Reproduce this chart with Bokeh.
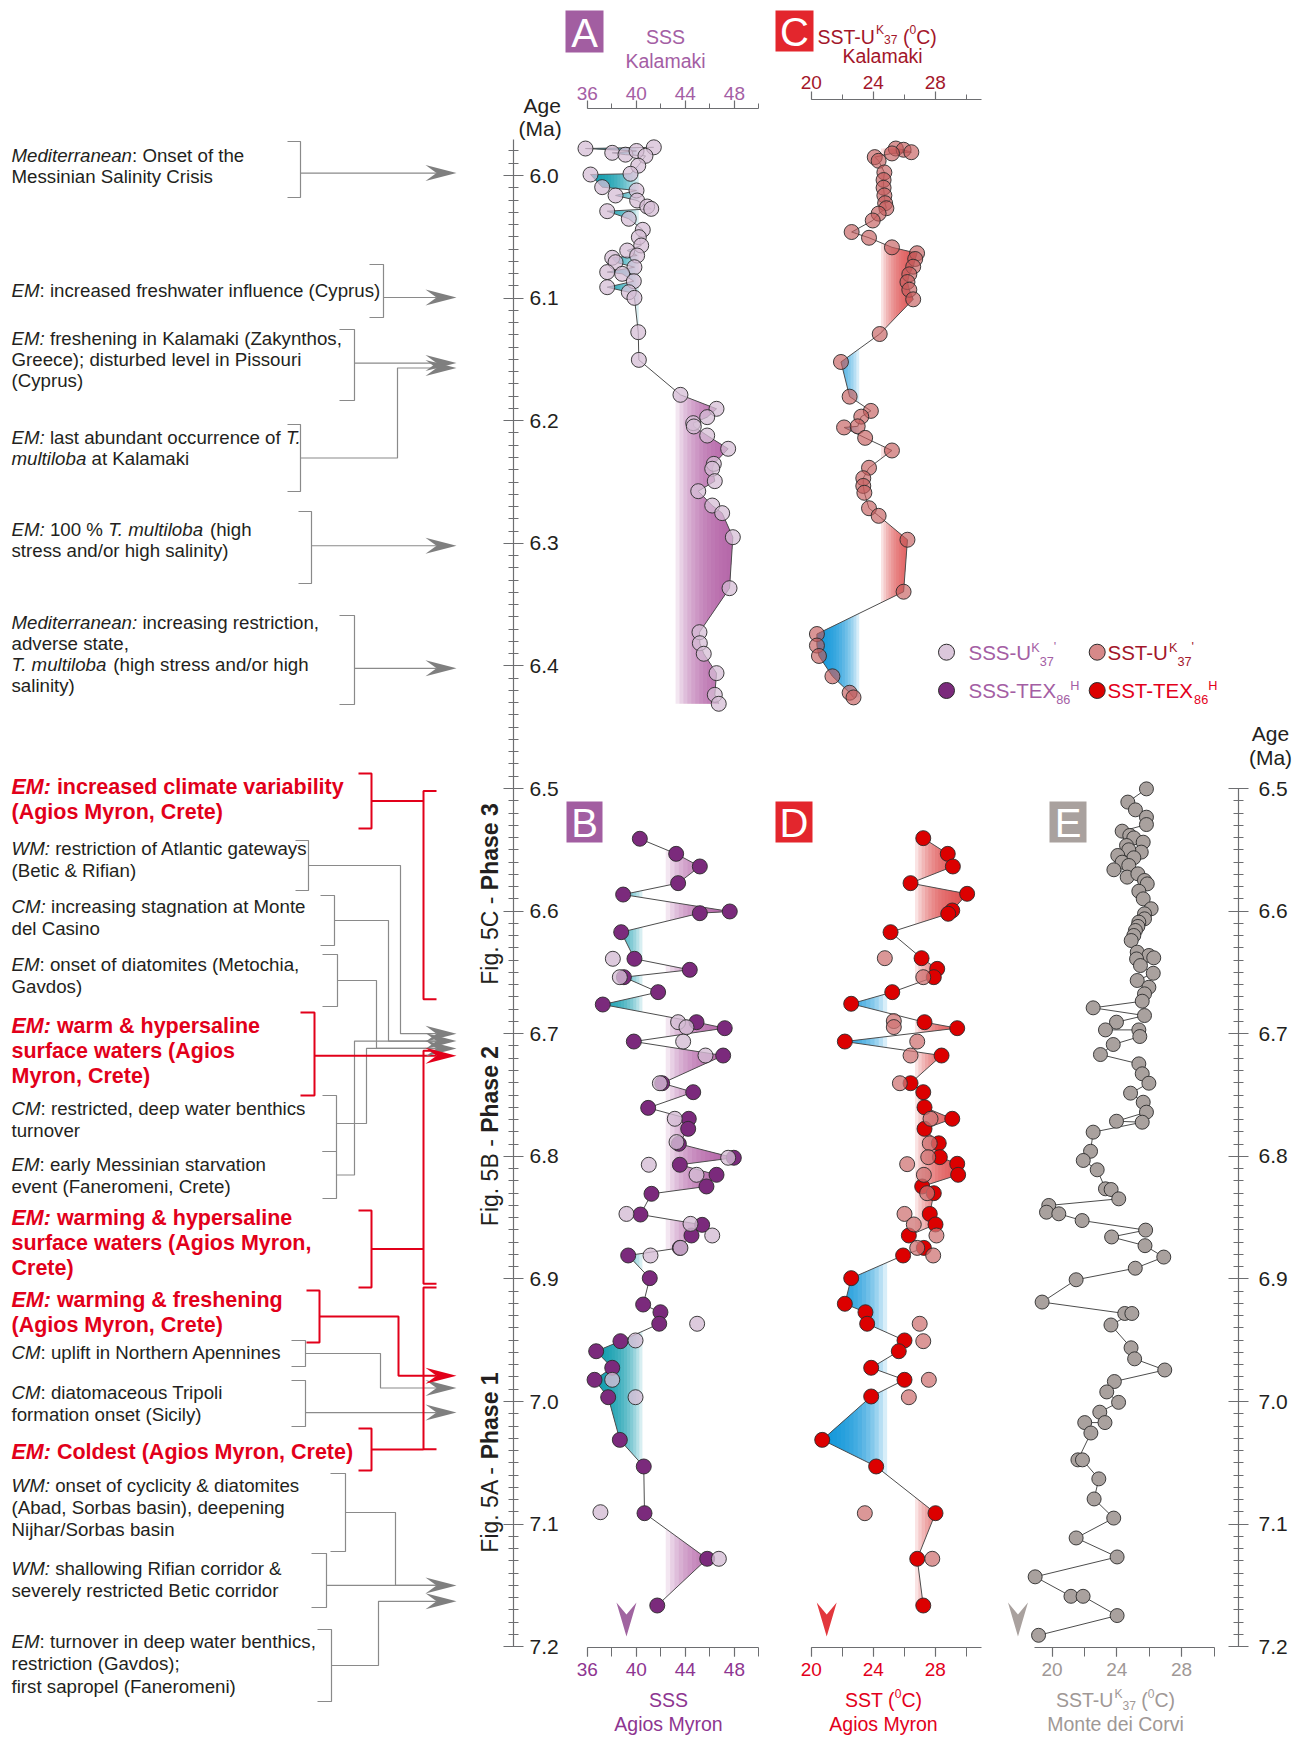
import math
import numpy as np
from bokeh.plotting import figure
from bokeh.layouts import row, column
from bokeh.models import Range1d, SingleIntervalTicker, PrintfTickFormatter, Title
from bokeh.core.properties import value
from bokeh.embed import file_html
from bokeh.resources import INLINE

FONT = "Liberation Sans"

# ====================================================================== DATA
# (A) SSS Kalamaki (U37K')
KAL_SSS_AGE = [5.978, 5.9815, 5.983, 5.980, 5.977, 5.984, 5.992, 5.9986, 5.9992, 6.0095,
               6.0163, 6.0122, 6.0204, 6.0253, 6.0272, 6.0291, 6.0353, 6.0443, 6.0503, 6.0571,
               6.0612, 6.0653, 6.0671, 6.0707, 6.0748, 6.0788, 6.0802, 6.0862, 6.0911, 6.0952,
               6.0998, 6.1278, 6.1504, 6.1789, 6.1903, 6.1971, 6.2020, 6.2047, 6.2121, 6.2229,
               6.2352, 6.2392, 6.2493, 6.2575, 6.2692, 6.2754, 6.2950, 6.3366, 6.3725, 6.3815,
               6.3901, 6.4059, 6.4236, 6.4309]
KAL_SSS = [35.86, 38.04, 39.12, 40.02, 41.43, 40.75, 40.16, 39.53, 36.27, 37.22,
           38.31, 40.02, 40.07, 40.89, 41.22, 37.63, 39.39, 40.53, 40.21, 40.40,
           39.26, 40.07, 38.04, 38.31, 39.85, 37.63, 38.85, 39.80, 37.63, 39.39,
           39.85, 40.16, 40.21, 43.60, 46.54, 45.78, 44.64, 44.69, 45.78, 47.49,
           46.32, 46.19, 46.40, 45.05, 46.19, 47.00, 47.87, 47.60, 45.15, 45.18,
           45.50, 46.54, 46.40, 46.72]

# (C) SST Kalamaki (U37K')
KAL_SST_AGE = [5.985, 5.978, 5.979, 5.981, 5.982, 5.988, 5.9975, 6.0037, 6.010, 6.0163,
               6.0226, 6.0267, 6.0311, 6.0367, 6.0461, 6.0508, 6.0586, 6.0634, 6.0681, 6.0744,
               6.0806, 6.0869, 6.0932, 6.101, 6.1293, 6.1521, 6.1804, 6.192, 6.1967, 6.2055,
               6.2046, 6.214, 6.2243, 6.2384, 6.2469, 6.2532, 6.2588, 6.2714, 6.2776, 6.2971,
               6.3395, 6.374, 6.3834, 6.3919, 6.4085, 6.4219, 6.4257]
KAL_SST = [24.10, 25.46, 25.96, 26.46, 25.21, 24.35, 24.72, 24.67, 24.67, 24.72,
           24.77, 24.85, 24.35, 23.97, 22.61, 23.73, 25.21, 26.83, 26.71, 26.58,
           26.33, 26.21, 26.33, 26.58, 24.42, 21.92, 22.48, 23.85, 23.23, 22.12,
           23.00, 23.48, 25.21, 23.73, 23.36, 23.36, 23.43, 23.73, 24.35, 26.21,
           25.96, 20.37, 20.37, 20.50, 21.37, 22.48, 22.73]

# (B) SSS Agios Myron: TEX86H and U37K'
AM_SSS_TEX_AGE = [6.541, 6.5533, 6.5636, 6.5772, 6.5865, 6.6017, 6.6003, 6.6172, 6.6389, 6.6479,
                  6.6539, 6.6661, 6.6762, 6.6906, 6.6955, 6.7064, 6.7178, 6.7404, 6.7477, 6.7605,
                  6.7694, 6.7776, 6.7898, 6.8012, 6.8069, 6.8151, 6.8246, 6.8306, 6.8475, 6.8559,
                  6.8646, 6.8747, 6.8809, 6.8994, 6.9209, 6.9272, 6.9366, 6.9508, 6.9590, 6.9725,
                  6.9823, 6.9965, 7.0313, 7.0530, 7.0911, 7.1283, 7.1664]
AM_SSS_TEX = [40.29, 43.25, 45.18, 43.41, 38.93, 45.18, 47.62, 38.77, 39.85, 44.36,
              38.99, 41.78, 37.27, 44.91, 47.21, 39.80, 47.08, 42.11, 44.64, 40.97,
              44.28, 44.23, 43.47, 47.95, 43.55, 46.54, 45.72, 41.24, 40.34, 45.37,
              44.50, 43.55, 39.34, 41.10, 40.56, 41.97, 41.87, 38.71, 36.73, 38.04,
              36.60, 37.71, 38.66, 40.61, 40.67, 45.78, 41.71]
AM_SSS_UK_AGE = [6.6389, 6.6539, 6.6906, 6.6947, 6.7064, 6.7178, 6.7404, 6.7694, 6.7884, 6.8012,
                 6.8069, 6.8151, 6.8470, 6.8551, 6.8646, 6.8747, 6.8809, 6.9366, 6.9502, 6.9823,
                 6.9965, 7.0903, 7.1283]
AM_SSS_UK = [38.09, 38.66, 43.41, 44.09, 43.82, 45.64, 41.92, 43.14, 43.28, 47.49,
             41.02, 44.91, 39.20, 44.42, 46.19, 43.60, 41.16, 44.96, 39.94, 38.04,
             39.94, 37.08, 46.73]

# (D) SST Agios Myron: TEX86H and U37K'
AM_SST_TEX_AGE = [6.5405, 6.5533, 6.5636, 6.5772, 6.5859, 6.5995, 6.6022, 6.6172, 6.6384, 6.6471,
                  6.6539, 6.6661, 6.6756, 6.6906, 6.6955, 6.7064, 6.7178, 6.7404, 6.7477, 6.7600,
                  6.7694, 6.7776, 6.7894, 6.8007, 6.8061, 6.8151, 6.8246, 6.8301, 6.8470, 6.8556,
                  6.8646, 6.8747, 6.8809, 6.8994, 6.9203, 6.9272, 6.9366, 6.9502, 6.9590, 6.9725,
                  6.9823, 6.9959, 7.0313, 7.0530, 7.0911, 7.1283, 7.1664]
AM_SST_TEX = [27.23, 28.81, 29.14, 26.41, 30.06, 29.10, 28.84, 25.12, 27.12, 28.13,
              27.91, 25.23, 22.58, 27.31, 29.42, 22.17, 28.41, 26.41, 27.23, 27.31,
              29.10, 27.31, 28.23, 28.30, 29.42, 29.48, 27.16, 27.91, 27.65, 28.02,
              26.30, 27.27, 25.93, 22.58, 22.17, 23.50, 23.61, 26.02, 25.65, 23.87,
              26.02, 23.87, 20.71, 24.19, 28.02, 26.84, 27.23]
AM_SST_UK_AGE = [6.6384, 6.6539, 6.6897, 6.6946, 6.7064, 6.7178, 6.7404, 6.7694, 6.7894, 6.8007,
                 6.8064, 6.8151, 6.8301, 6.8470, 6.8556, 6.8646, 6.8747, 6.8809, 6.9366, 6.9508,
                 6.9823, 6.9965, 7.0911, 7.1283]
AM_SST_UK = [24.75, 27.23, 25.33, 25.33, 26.84, 26.41, 25.72, 27.70, 27.65, 27.55,
             26.19, 27.27, 27.48, 26.02, 26.62, 28.08, 26.84, 27.87, 27.00, 27.23,
             27.59, 26.30, 23.46, 27.81]

# (E) SST Monte dei Corvi (U37K')
MDC_AGE = [6.5003, 6.5111, 6.5174, 6.5234, 6.5294, 6.5348, 6.5383, 6.5403, 6.5438, 6.5465,
           6.5519, 6.5500, 6.5546, 6.5565, 6.5601, 6.5628, 6.5663, 6.5723, 6.5696, 6.5750,
           6.5778, 6.5838, 6.5900, 6.5981, 6.6022, 6.6063, 6.6090, 6.6125, 6.6158, 6.6199,
           6.6240, 6.6335, 6.6362, 6.6381, 6.6390, 6.6444, 6.6507, 6.6566, 6.6621, 6.6675,
           6.6735, 6.6789, 6.6852, 6.6906, 6.6969, 6.6969, 6.7023, 6.7088, 6.7170, 6.7246,
           6.7327, 6.7404, 6.7485, 6.7559, 6.7640, 6.7722, 6.7714, 6.7803, 6.7959, 6.8034,
           6.8110, 6.8265, 6.8271, 6.8347, 6.8401, 6.8456, 6.8469, 6.8524, 6.8602, 6.8658,
           6.8729, 6.8822, 6.8913, 6.9007, 6.9189, 6.9282, 6.9282, 6.9376, 6.9562, 6.9652,
           6.9743, 6.9837, 6.9922, 7.0007, 7.0087, 7.0172, 7.0172, 7.0257, 7.0476, 7.0476,
           7.0631, 7.0795, 7.0951, 7.1113, 7.1268, 7.1430, 7.1589, 7.1589, 7.1746, 7.1907]
MDC_SST = [25.83, 24.68, 25.15, 25.83, 25.83, 24.33, 24.80, 25.05, 25.63, 24.60,
           25.51, 24.74, 24.06, 25.05, 24.33, 24.74, 23.82, 24.64, 25.30, 25.71,
           25.88, 25.36, 25.63, 26.12, 25.71, 25.71, 25.36, 25.30, 25.15, 25.05,
           24.89, 25.26, 25.98, 26.28, 25.22, 25.46, 26.25, 25.26, 25.98, 25.71,
           25.57, 22.54, 25.71, 23.98, 23.30, 25.36, 25.42, 23.78, 22.99, 25.36,
           25.57, 25.98, 24.85, 25.63, 25.83, 25.57, 23.98, 22.54, 22.38, 21.93,
           22.79, 23.30, 23.65, 24.12, 19.80, 19.66, 20.42, 21.86, 25.78, 23.68,
           25.74, 26.90, 25.14, 21.49, 19.39, 24.49, 24.93, 23.64, 24.88, 25.10,
           26.96, 23.85, 23.38, 24.11, 22.95, 23.27, 22.02, 22.40, 21.60, 21.88,
           22.89, 22.60, 23.81, 21.49, 24.02, 18.96, 21.17, 21.92, 24.02, 19.17]

# present-day reference values (arrowheads under panels B, D, E)
MODERN_SSS = 39.2
MODERN_SST = 21.0
MODERN_MDC = 17.9

# shading: (start value, extent of colour gradient)
SHADE_A = {"high": (43.2, 4.5), "low": (40.2, 3.5)}
SHADE_B = {"high": (42.4, 5.0), "low": (40.5, 3.5)}
SHADE_C = {"high": (24.5, 2.3), "low": (23.1, 2.6)}
SHADE_D = {"high": (26.7, 3.0), "low": (24.9, 3.8)}

# event ages targeted by arrows on the central age axis (Ma)
GREY_EVENT_AGES = [5.998, 6.0995, 6.153, 6.157, 6.302, 6.402, 6.700, 6.706, 6.712,
                   6.989, 7.009, 7.150, 7.163]
RED_EVENT_AGES = [6.718, 6.979]
PHASE_SPANS = [(6.502, 6.672), (6.714, 6.904), (6.907, 7.039)]
PHASE_LABELS = [("Fig. 5C - ", "Phase 3"), ("Fig. 5B - ", "Phase 2"), ("Fig. 5A - ", "Phase 1")]

# ====================================================================== LAYOUT CONSTANTS
AGE_REF, Y_REF, PX_PER_MA = 6.0, 175.0, 1226.0
SSS_SCALE = (36.0, 586.7, 12.27)
SST_SCALE = (20.0, 810.7, 15.5)
MDC_SCALE = (20.0, 1051.5, 16.2)
PX_SCALE = (0.0, 0.0, 1.0)

INK = "#231f20"
AXIS_GREY = "#6d6e71"
LINE_GREY = "#8a8a8a"
ARROW_GREY = "#7f7f7f"
RED = "#e2001a"
SSS_TOP = "#a45ea4"
SSS_BOT = "#8e3591"
SST_TOP = "#a3162a"
SST_BOT = "#e3001b"
MDC_TXT = "#9f9896"
PURPLE_LIGHT = "#d5bdd5"
PURPLE_DARK = "#7b2a7c"
RED_LIGHT = "#cf7474"
RED_DARK = "#dc0000"
GREY_PT = "#a9a19e"
SHADE_PURPLE = "#b25aa4"
SHADE_TEAL = "#0097aa"
SHADE_RED = "#e04545"
SHADE_BLUE = "#0092da"


def age_at(py):
    return AGE_REF + (py - Y_REF) / PX_PER_MA


def py_of(age):
    return Y_REF + (age - AGE_REF) * PX_PER_MA


def val_at(px, sc):
    return sc[0] + (px - sc[1]) / sc[2]


# Arial / Liberation Sans advance widths (1/1000 em)
_P = " !\"#$%&'()*+,-./0123456789:;<=>?@"
_U = "ABCDEFGHIJKLMNOPQRSTUVWXYZ"
_L = "abcdefghijklmnopqrstuvwxyz"
REG = dict(zip(_P, [278, 278, 355, 556, 556, 889, 667, 191, 333, 333, 389, 584, 278, 333, 278, 278]
               + [556] * 10 + [278, 278, 584, 584, 584, 556, 1015]))
REG.update(zip(_U, [667, 667, 722, 722, 667, 611, 778, 722, 278, 500, 667, 556, 833, 722, 778, 667,
                    778, 722, 667, 611, 722, 667, 944, 667, 667, 611]))
REG.update(zip(_L, [556, 556, 500, 556, 556, 278, 556, 556, 222, 222, 500, 222, 833, 556, 556, 556,
                    556, 333, 500, 278, 556, 500, 722, 500, 500, 500]))
BLD = dict(zip(_P, [278, 333, 474, 556, 556, 889, 722, 238, 333, 333, 389, 584, 278, 333, 278, 278]
               + [556] * 10 + [333, 333, 584, 584, 584, 611, 975]))
BLD.update(zip(_U, [722, 722, 722, 722, 667, 611, 778, 722, 278, 556, 722, 611, 833, 722, 778, 667,
                    778, 722, 667, 611, 722, 667, 944, 667, 667, 611]))
BLD.update(zip(_L, [556, 611, 556, 611, 556, 333, 611, 611, 278, 278, 556, 278, 889, 611, 611, 611,
                    611, 389, 556, 333, 611, 556, 778, 556, 556, 500]))


def text_w(s, size, bold=False):
    tbl = BLD if bold else REG
    return sum(tbl.get(ch, 556) for ch in s) * size / 1000.0


# ====================================================================== FIGURES
def make_fig(w, h, frame, xscale=None, xloc=None, yloc=None, borders=(0, 0, 0, 0)):
    l, r, t, b = frame
    if xscale is None:
        xr, yr = Range1d(l, r), Range1d(b, t)
    else:
        xr = Range1d(val_at(l, xscale), val_at(r, xscale))
        yr = Range1d(age_at(b), age_at(t))
    p = figure(width=w, height=h, x_range=xr, y_range=yr, output_backend="svg",
               toolbar_location=None, x_axis_location=xloc, y_axis_location=yloc, min_border=0)
    p.min_border_left, p.min_border_right, p.min_border_top, p.min_border_bottom = borders
    p.extra_x_ranges = {"px": Range1d(l, r)}
    p.extra_y_ranges = {"py": Range1d(b, t)}
    p.outline_line_color = None
    p.background_fill_color = "white"
    p.border_fill_color = "white"
    p.grid.visible = False
    return p


def style_axis(ax, bounds, interval, nminor, color, size, standoff, tin, tout, mtin, mtout, fmt=None):
    ax.bounds = bounds
    ax.ticker = SingleIntervalTicker(interval=interval, num_minor_ticks=nminor)
    if fmt:
        ax.formatter = PrintfTickFormatter(format=fmt)
    ax.axis_line_color = AXIS_GREY
    ax.major_tick_line_color = AXIS_GREY
    ax.minor_tick_line_color = AXIS_GREY
    ax.axis_line_width = 1.2
    ax.major_tick_line_width = 1.2
    ax.minor_tick_line_width = 1
    ax.major_tick_in, ax.major_tick_out = tin, tout
    ax.minor_tick_in, ax.minor_tick_out = mtin, mtout
    ax.major_label_text_font = FONT
    ax.major_label_text_font_size = f"{size}px"
    ax.major_label_text_color = color
    ax.major_label_standoff = standoff


TEXTS = {}


def put(p, x, y, s, size, color=INK, style="normal", align="left", baseline="middle", angle=0.0):
    key = (id(p), round(size, 2), style, align, baseline, angle)
    d = TEXTS.setdefault(key, {"p": p, "x": [], "y": [], "t": [], "c": []})
    d["x"].append(x)
    d["y"].append(y)
    d["t"].append(s)
    d["c"].append(color)


def flush_texts():
    for (pid, size, style, align, baseline, angle), d in TEXTS.items():
        d["p"].text(x=d["x"], y=d["y"], text=d["t"], text_color=d["c"],
                    x_range_name="px", y_range_name="py",
                    text_font=value(FONT), text_font_size=value(f"{size}px"),
                    text_font_style=value(style), text_align=value(align),
                    text_baseline=value(baseline), angle=angle)


def rich(p, x, y, segs, size, color, align="left"):
    """segs: (text, style, size factor, rise in em of the base size); y = visual centre line"""
    widths = [text_w(t, size * f, "bold" in st) for (t, st, f, rise) in segs]
    total = sum(widths)
    x0 = x - total / 2 if align == "center" else (x - total if align == "right" else x)
    for (t, st, f, rise), w in zip(segs, widths):
        body = t.lstrip(" ")
        lead = text_w(t[:len(t) - len(body)], size * f, "bold" in st)
        if body.strip():
            put(p, x0 + lead, y - rise * size, body.rstrip(" "), round(size * f, 2), color, st, "left", "middle")
        x0 += w


def markup(line, bold):
    segs = []
    for i, part in enumerate(line.split("*")):
        if not part:
            continue
        st = " ".join(s for s in (("bold" if bold else ""), ("italic" if i % 2 else "")) if s) or "normal"
        segs.append((part, st, 1.0, 0.0))
    return segs


def uk37(prefix, sup, sub):
    return [(prefix, "normal", 1, 0), ("K", "normal", 0.62, sup), ("37", "normal", 0.62, sub),
            (" (", "normal", 1, 0), ("0", "normal", 0.62, sup), ("C)", "normal", 1, 0)]


# central age axis column (frame ends at the axis, labels in the right border)
L_main = make_fig(562, 1743, (0, 513, 139, 1743), xscale=PX_SCALE, yloc="right", borders=(0, 49, 139, 0))
for txt, off, so in (("(Ma)", 518, -4), ("Age", 523, -1)):
    L_main.add_layout(Title(text=txt, align="left", offset=off, standoff=so, vertical_align="top",
                            text_font=FONT, text_font_size="21px", text_font_style="normal",
                            text_color=INK), "above")
# top panels
hA = make_fig(208, 72, (562, 770, 0, 72))
pA = make_fig(208, 703, (562, 770, 108, 775), xscale=SSS_SCALE, xloc="above", borders=(0, 0, 36, 0))
hC = make_fig(541, 66, (770, 1311, 0, 66))
pC = make_fig(541, 709, (770, 1311, 99, 775), xscale=SST_SCALE, xloc="above", borders=(0, 0, 33, 0))
# bottom panels
pB = make_fig(208, 909, (562, 770, 775, 1647), xscale=SSS_SCALE, xloc="below", borders=(0, 0, 0, 37))
pD = make_fig(225, 909, (770, 995, 775, 1647), xscale=SST_SCALE, xloc="below", borders=(0, 0, 0, 37))
pE = make_fig(316, 909, (995, 1238, 775, 1647), xscale=MDC_SCALE, xloc="below", yloc="right",
              borders=(0, 73, 0, 37))
foot = make_fig(749, 59, (562, 1311, 1684, 1743))

style_axis(L_main.yaxis[0], (5.9695, 7.2001), 0.1, 10, INK, 21, 6, 10, 10, 5, 5, "%.1f")
style_axis(pE.yaxis[0], (6.4999, 7.2001), 0.1, 10, INK, 21, 10, 10, 10, 5, 5, "%.1f")
style_axis(pA.xaxis[0], (36, 50), 4, 2, SSS_TOP, 19, 1, 0, 8, 0, 5)
style_axis(pC.xaxis[0], (20, 31), 4, 2, SST_TOP, 19, 3, 0, 8, 0, 5)
style_axis(pB.xaxis[0], (36, 50), 4, 2, SSS_BOT, 19, 6, 0, 9, 0, 9)
style_axis(pD.xaxis[0], (20, 31), 4, 2, SST_BOT, 19, 6, 0, 9, 0, 9)
style_axis(pE.xaxis[0], (18.9, 30), 4, 2, MDC_TXT, 19, 6, 0, 9, 0, 9)


# ====================================================================== DATA GLYPHS
def densify(a, v, lev):
    ys, xs = [a[0]], [v[0]]
    for i in range(1, len(a)):
        a0, v0, a1, v1 = a[i - 1], v[i - 1], a[i], v[i]
        if (v0 - lev) * (v1 - lev) < 0:
            t = (lev - v0) / (v1 - v0)
            ys.append(a0 + t * (a1 - a0))
            xs.append(lev)
        ys.append(a1)
        xs.append(v1)
    return np.array(ys), np.array(xs)


def sorted_xy(ages, vals):
    o = np.argsort(np.asarray(ages, float), kind="stable")
    return np.asarray(ages, float)[o], np.asarray(vals, float)[o]


def shade(p, ages, vals, level, width, color, side, n=14, amax=0.9):
    a, v = sorted_xy(ages, vals)
    alpha = 1 - (1 - amax) ** (1.0 / n)
    sgn = 1 if side == "high" else -1
    for k in range(n):
        lev = level + sgn * width * k / n
        ys, xs = densify(a, v, lev)
        x2 = np.maximum(xs, lev) if sgn > 0 else np.minimum(xs, lev)
        p.harea(y=ys, x1=np.full(len(ys), lev), x2=x2, fill_color=color, fill_alpha=alpha)


def connect(p, ages, vals):
    a, v = sorted_xy(ages, vals)
    p.line(v, a, line_color="#4d4d4d", line_width=1)


def dots(p, ages, vals, fill, alpha, size=15):
    p.scatter(list(vals), list(ages), size=size, fill_color=fill, fill_alpha=alpha,
              line_color="#2b2b2b", line_width=1, line_alpha=0.9)


def shades(p, ages, vals, spec, hi_col, lo_col):
    shade(p, ages, vals, spec["high"][0], spec["high"][1], hi_col, "high")
    shade(p, ages, vals, spec["low"][0], spec["low"][1], lo_col, "low")


# A
shades(pA, KAL_SSS_AGE, KAL_SSS, SHADE_A, SHADE_PURPLE, SHADE_TEAL)
connect(pA, KAL_SSS_AGE, KAL_SSS)
dots(pA, KAL_SSS_AGE, KAL_SSS, PURPLE_LIGHT, 0.75)
# C
shades(pC, KAL_SST_AGE, KAL_SST, SHADE_C, SHADE_RED, SHADE_BLUE)
connect(pC, KAL_SST_AGE, KAL_SST)
dots(pC, KAL_SST_AGE, KAL_SST, "#c45c5c", 0.65)
# B
shades(pB, AM_SSS_TEX_AGE, AM_SSS_TEX, SHADE_B, SHADE_PURPLE, SHADE_TEAL)
connect(pB, AM_SSS_TEX_AGE, AM_SSS_TEX)
dots(pB, AM_SSS_TEX_AGE, AM_SSS_TEX, PURPLE_DARK, 1.0)
dots(pB, AM_SSS_UK_AGE, AM_SSS_UK, PURPLE_LIGHT, 0.8)
# D
shades(pD, AM_SST_TEX_AGE, AM_SST_TEX, SHADE_D, SHADE_RED, SHADE_BLUE)
connect(pD, AM_SST_TEX_AGE, AM_SST_TEX)
dots(pD, AM_SST_TEX_AGE, AM_SST_TEX, RED_DARK, 1.0)
dots(pD, AM_SST_UK_AGE, AM_SST_UK, RED_LIGHT, 0.75)
# E
connect(pE, MDC_AGE, MDC_SST)
dots(pE, MDC_AGE, MDC_SST, GREY_PT, 1.0, size=14)


def down_head(p, v, sc, color):
    hw = 10.0 / sc[2]
    tip, top, notch = age_at(1636), age_at(1602), age_at(1614)
    p.patch([v, v - hw, v, v + hw], [tip, top, notch, top], fill_color=color, line_color=None)


down_head(pB, MODERN_SSS, SSS_SCALE, "#a064a0")
down_head(pD, MODERN_SST, SST_SCALE, "#e2373d")
down_head(pE, MODERN_MDC, MDC_SCALE, GREY_PT)


def letter_box(p, l, r, t, b, letter, color):
    p.quad(left=[l], right=[r], top=[t], bottom=[b], x_range_name="px", y_range_name="py",
           fill_color=color, line_color=None)
    put(p, (l + r) / 2, (t + b) / 2 + 1, letter, 40, "white", "normal", "center", "middle")


letter_box(hA, 565, 603, 10, 52, "A", "#a25ea1")
letter_box(hC, 775, 813, 10, 51, "C", "#e3262d")
letter_box(pB, 566, 602, 801, 842, "B", "#a25ea1")
letter_box(pD, 775, 812, 801, 842, "D", "#e3262d")
letter_box(pE, 1049, 1086, 801, 842, "E", "#a9a19e")

# headers / footers
put(hA, 665, 36, "SSS", 19.5, SSS_TOP, "normal", "center")
put(hA, 665, 60, "Kalamaki", 19.5, SSS_TOP, "normal", "center")
rich(hC, 817, 36, uk37("SST-U", 0.34, -0.13), 19.5, SST_TOP)
put(hC, 882, 55, "Kalamaki", 19.5, SST_TOP, "normal", "center")

put(foot, 668, 1699, "SSS", 19.5, SSS_BOT, "normal", "center")
put(foot, 668, 1723, "Agios Myron", 19.5, SSS_BOT, "normal", "center")
rich(foot, 883, 1699, [("SST (", "normal", 1, 0), ("0", "normal", 0.62, 0.3), ("C)", "normal", 1, 0)],
     19.5, SST_BOT, "center")
put(foot, 883, 1723, "Agios Myron", 19.5, SST_BOT, "normal", "center")
rich(foot, 1115, 1699, uk37("SST-U", 0.3, -0.3), 19.5, MDC_TXT, "center")
put(foot, 1115, 1723, "Monte dei Corvi", 19.5, MDC_TXT, "normal", "center")

put(pC, 1270, 733, "Age", 21, INK, "normal", "center")
put(pC, 1270, 757, "(Ma)", 21, INK, "normal", "center")

# legend
LEG = [
    (946, 651.7, PURPLE_LIGHT, 0.85, 968, SSS_TOP,
     [("SSS-U", "normal", 1, 0), ("K", "normal", 0.62, 0.25), ("37", "normal", 0.62, -0.45),
      ("'", "normal", 0.62, 0.3)]),
    (946, 690, PURPLE_DARK, 1.0, 968, SSS_TOP,
     [("SSS-TEX", "normal", 1, 0), ("86", "normal", 0.62, -0.45), ("H", "normal", 0.62, 0.25)]),
    (1096.7, 651.7, RED_LIGHT, 0.85, 1107, SST_TOP,
     [("SST-U", "normal", 1, 0), ("K", "normal", 0.62, 0.25), ("37", "normal", 0.62, -0.45),
      ("'", "normal", 0.62, 0.3)]),
    (1096.7, 690, RED_DARK, 1.0, 1107, SST_BOT,
     [("SST-TEX", "normal", 1, 0), ("86", "normal", 0.62, -0.45), ("H", "normal", 0.62, 0.25)]),
]
for mx, my, fc, fa, tx, tc, segs in LEG:
    pC.scatter([mx], [my], x_range_name="px", y_range_name="py", size=16, fill_color=fc,
               fill_alpha=fa, line_color="#2b2b2b", line_width=1)
    rich(pC, tx, my, segs, 20.5, tc)

# ====================================================================== LEFT ANNOTATIONS
NOTES = [
    (["*Mediterranean*: Onset of the", "Messinian Salinity Crisis"], False, 154.6, (287, 300, 141, 197), ("arrow", 0, None)),
    (["*EM*: increased freshwater influence (Cyprus)"], False, 290, (369, 383, 264, 317), ("arrow", 1, None)),
    (["*EM:* freshening in Kalamaki (Zakynthos,", "Greece); disturbed level in Pissouri", "(Cyprus)"], False, 338,
     (339, 354, 329, 400), ("arrow", 2, None)),
    (["*EM:* last abundant occurrence of *T.*", "*multiloba* at Kalamaki"], False, 437, (287, 300, 424, 491), ("arrow", 3, 397)),
    (["*EM:* 100 % *T. multiloba* (high", "stress and/or high salinity)"], False, 529, (298, 311, 511, 583), ("arrow", 4, None)),
    (["*Mediterranean:* increasing restriction,", "adverse state,", "*T. multiloba* (high stress and/or high", "salinity)"],
     False, 621.6, (339, 354, 615, 704), ("arrow", 5, None)),
    (["*EM:* increased climate variability", "(Agios Myron, Crete)"], True, 786, (358, 371, 773, 828), ("phase", 0)),
    (["*WM:* restriction of Atlantic gateways", "(Betic & Rifian)"], False, 848, (295, 308, 840, 890), ("arrow", 6, 400)),
    (["*CM:* increasing stagnation at Monte", "del Casino"], False, 906, (320, 334, 895, 945), ("arrow", 7, 388)),
    (["*EM*: onset of diatomites (Metochia,", "Gavdos)"], False, 964, (322, 337, 954, 1006), ("arrow", 8, 376)),
    (["*EM:* warm & hypersaline", "surface waters (Agios", "Myron, Crete)"], True, 1025, (300, 314, 1012, 1095), ("red", 0, None)),
    (["*CM*: restricted, deep water benthics", "turnover"], False, 1108, (322, 336, 1095, 1151), ("arrow", 8, 366)),
    (["*EM*: early Messinian starvation", "event (Faneromeni, Crete)"], False, 1164, (322, 336, 1151, 1198), ("arrow", 7, 354)),
    (["*EM:* warming & hypersaline", "surface waters (Agios Myron,", "Crete)"], True, 1217, (358, 371, 1210, 1287), ("phase", 1)),
    (["*EM:* warming & freshening", "(Agios Myron, Crete)"], True, 1299, (306, 319, 1290, 1342), ("red", 1, 398)),
    (["*CM*: uplift in Northern Apennines"], False, 1352, (291, 305, 1340, 1366), ("arrow", 9, 380)),
    (["*CM*: diatomaceous Tripoli", "formation  onset (Sicily)"], False, 1392, (291, 305, 1380, 1426), ("arrow", 10, None)),
    (["*EM:* Coldest (Agios Myron, Crete)"], True, 1451, (358, 371, 1428, 1470), ("phase", 2)),
    (["*WM:* onset of cyclicity & diatomites", "(Abad, Sorbas basin), deepening", "Nijhar/Sorbas basin"], False, 1484.5,
     (330, 345, 1473, 1551), ("arrow", 11, 395)),
    (["*WM:* shallowing Rifian corridor &", "severely restricted Betic corridor"], False, 1568, (311, 326, 1553, 1607),
     ("arrow", 11, None)),
    (["*EM*: turnover in deep water benthics,", "restriction (Gavdos);", "first sapropel (Faneromeni)"], False, 1641,
     (317, 331, 1629, 1701), ("arrow", 12, 378)),
]
TEXT_X = 11
HEAD_TIP, HEAD_BACK, HEAD_NOTCH, HEAD_HALF = 456, 425, 436, 8
PHASE_X, PHASE_TICK = 423, 436
PHASE_LABEL_CENTRE = [893.5, 1135.5, 1462.0]
PHASE_LABEL_X, PHASE_LABEL_SIZE = 489, 23

grey_paths, red_paths = ([], []), ([], [])
for lines, red, y0, (xl, xr, yt, yb), target in NOTES:
    size = 21.5 if red else 18.7
    dy = 25.0 if red else (21.2 if y0 < 700 else 22.3)
    color = RED if red else INK
    for k, ln in enumerate(lines):
        rich(L_main, TEXT_X, y0 + k * dy, markup(ln, red), size, color, "left")
    paths = red_paths if red else grey_paths
    paths[0].append([xl, xr, xr, xl])
    paths[1].append([yt, yt, yb, yb])
    ymid = (yt + yb) / 2
    if target[0] == "phase":
        paths[0].append([xr, PHASE_X])
        paths[1].append([ymid, ymid])
    else:
        ages = RED_EVENT_AGES if target[0] == "red" else GREY_EVENT_AGES
        ya = py_of(ages[target[1]])
        turn = target[2]
        if turn is None:
            paths[0].append([xr, HEAD_NOTCH])
            paths[1].append([ya, ya])
        else:
            paths[0].append([xr, turn, turn, HEAD_NOTCH])
            paths[1].append([ymid, ymid, ya, ya])

for (a0, a1) in PHASE_SPANS:
    red_paths[0].append([PHASE_TICK, PHASE_X, PHASE_X, PHASE_TICK])
    red_paths[1].append([py_of(a0), py_of(a0), py_of(a1), py_of(a1)])

L_main.multi_line(grey_paths[0], grey_paths[1], x_range_name="px", y_range_name="py",
                  line_color=LINE_GREY, line_width=1.2)
L_main.multi_line(red_paths[0], red_paths[1], x_range_name="px", y_range_name="py",
                  line_color=RED, line_width=2)


def heads(ages, color):
    xs, ys = [], []
    for a in ages:
        y = py_of(a)
        xs.append([HEAD_TIP, HEAD_BACK, HEAD_NOTCH, HEAD_BACK])
        ys.append([y, y - HEAD_HALF, y, y + HEAD_HALF])
    L_main.patches(xs, ys, x_range_name="px", y_range_name="py", fill_color=color, line_color=None)


heads(GREY_EVENT_AGES, ARROW_GREY)
heads(RED_EVENT_AGES, RED)

for (fig_txt, ph_txt), yc in zip(PHASE_LABELS, PHASE_LABEL_CENTRE):
    w1 = text_w(fig_txt, PHASE_LABEL_SIZE)
    w2 = text_w(ph_txt, PHASE_LABEL_SIZE, True)
    bottom = yc + (w1 + w2) / 2
    put(L_main, PHASE_LABEL_X, bottom, fig_txt.rstrip(), PHASE_LABEL_SIZE, INK, "normal", "left", "middle", math.pi / 2)
    put(L_main, PHASE_LABEL_X, bottom - w1, ph_txt, PHASE_LABEL_SIZE, INK, "bold", "left", "middle", math.pi / 2)

flush_texts()

# ====================================================================== ASSEMBLE
right = column(
    row(column(hA, pA), column(hC, pC)),
    row(pB, pD, pE),
    foot,
)
page = row(L_main, right)

open("out.html", "w").write(file_html(page, INLINE))
